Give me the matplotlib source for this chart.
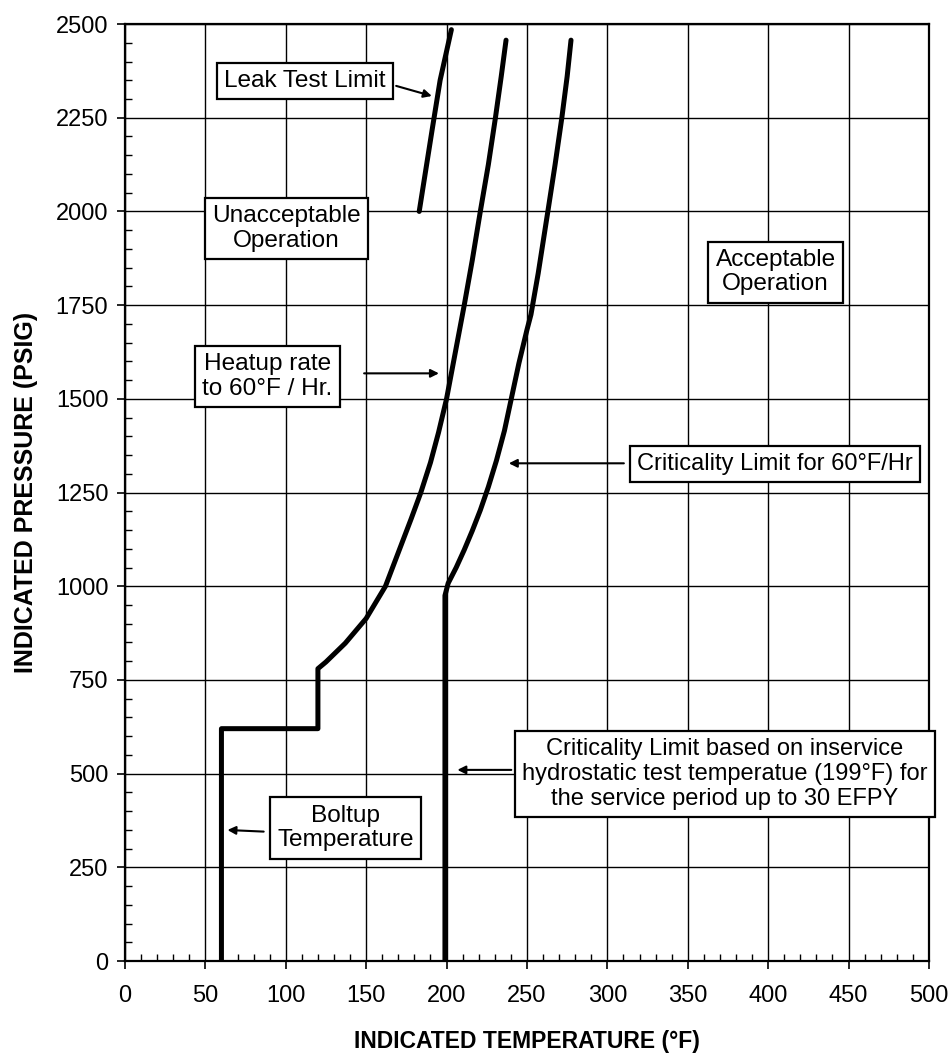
import matplotlib
matplotlib.use("Agg")
import matplotlib.pyplot as plt
from matplotlib.ticker import MultipleLocator

plt.rcParams['font.family'] = ['Liberation Sans', 'DejaVu Sans']

# curve data (temperature degF, pressure psig)
heatup_temp = [60, 60, 120, 120, 125, 137, 150, 162, 170, 178, 184, 190, 195, 200, 205.5, 211, 216, 221, 226, 230.4, 234, 237]
heatup_pres = [0, 620, 620, 780, 798, 848, 914, 1000, 1090, 1180, 1250, 1330, 1410, 1500, 1625, 1750, 1870, 2000, 2125, 2250, 2360, 2457]

crit_temp = [199, 199, 201, 206, 211, 216, 221, 226, 231, 236, 240, 245, 250, 252.5, 257, 263, 267.5, 271.7, 275, 277.4]
crit_pres = [0, 975, 1008, 1050, 1097, 1148, 1203, 1265, 1335, 1415, 1495, 1595, 1684, 1725, 1835, 2000, 2125, 2250, 2360, 2457]

leak_temp = [183, 191, 196, 203]
leak_pres = [2000, 2217, 2350, 2485]

fig = plt.figure(figsize=(9.51, 10.59), dpi=100)
ax = fig.add_axes([0.1314, 0.0925, 0.8454, 0.8848])

ax.plot(heatup_temp, heatup_pres, color='black', lw=3.6, solid_capstyle='round', solid_joinstyle='round', zorder=3)
ax.plot(crit_temp, crit_pres, color='black', lw=3.6, solid_capstyle='round', solid_joinstyle='round', zorder=3)
ax.plot(leak_temp, leak_pres, color='black', lw=3.6, solid_capstyle='round', zorder=3)

ax.set_xlim(0, 500)
ax.set_ylim(0, 2500)
ax.xaxis.set_major_locator(MultipleLocator(50))
ax.xaxis.set_minor_locator(MultipleLocator(10))
ax.yaxis.set_major_locator(MultipleLocator(250))
ax.yaxis.set_minor_locator(MultipleLocator(50))
ax.grid(True, which='major', color='black', lw=1.0)
ax.set_axisbelow(True)

ax.tick_params(which='major', direction='out', length=6, width=1.2, labelsize=17, colors='black')
ax.tick_params(axis='x', which='major', pad=11)
ax.tick_params(axis='y', which='major', pad=6)
ax.tick_params(which='minor', direction='in', length=5, width=1.0)
for s in ax.spines.values():
    s.set_linewidth(1.6)

ax.set_xlabel('INDICATED TEMPERATURE (°F)', fontsize=16.5, fontweight='bold', labelpad=17)
ax.set_ylabel('INDICATED PRESSURE (PSIG)', fontsize=18, fontweight='bold', labelpad=13)

box = dict(boxstyle='square,pad=0.3', fc='white', ec='black', lw=1.6)

def label(x, y, s, fs=17.6):
    ax.text(x, y, s, ha='center', va='center', fontsize=fs, bbox=box, zorder=5, linespacing=1.15)

def arrow(x0, y0, x1, y1):
    ax.annotate('', xy=(x1, y1), xytext=(x0, y0),
                arrowprops=dict(arrowstyle='-|>', color='black', lw=1.5, mutation_scale=12), zorder=4)

label(112, 2348, 'Leak Test Limit')
arrow(167, 2337, 192.5, 2306)

label(100.6, 1955, 'Unacceptable\nOperation')

label(88.4, 1560, 'Heatup rate\nto 60°F / Hr.')
arrow(147, 1568, 197, 1568)

label(404.6, 1838, 'Acceptable\nOperation')

label(404, 1326, 'Criticality Limit for 60°F/Hr', fs=17)
arrow(312, 1328, 237, 1328)

label(373, 499, 'Criticality Limit based on inservice\nhydrostatic test temperatue (199°F) for\nthe service period up to 30 EFPY', fs=17)
arrow(242, 510, 205, 510)

label(137, 355, 'Boltup\nTemperature')
arrow(88, 345, 62, 350)

fig.savefig('out.png', dpi=100)
